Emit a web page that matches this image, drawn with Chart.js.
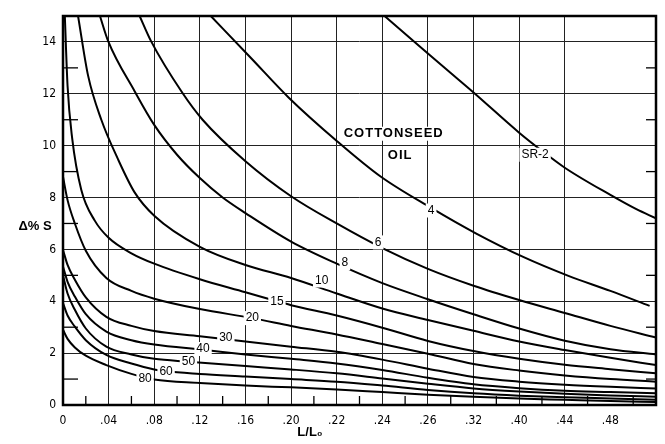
<!DOCTYPE html>
<html><head><meta charset="utf-8">
<script src="https://cdn.jsdelivr.net/npm/chart.js@4.4.1/dist/chart.umd.min.js"></script>
<style>html,body{margin:0;padding:0;background:#fff}#wrap{width:665px;height:444px}</style>
</head><body><div id="wrap"><canvas id="c" width="665" height="444"></canvas></div>
<script>
// x positions are grid-line indexes (the printed L/L0 labels are unevenly spaced)
const xTickLabels = ['0','.04','.08','.12','.16','.20','.22','.24','.26','.32','.40','.44','.48'];
const yTickValues = [0,2,4,6,8,10,12,14];

const curveSR2 = [[7.05,15],[7.6,14.16],[8,13.55],[8.5,12.8],[9,12.05],[10,10.5],[10.5,9.8],[11,9.15],[12,8.1],[12.57,7.55],[13,7.2]];
const curve4  = [[3.24,15],[4.11,13.4],[4.95,11.85],[5.99,10.2],[6.97,8.8],[8.07,7.6],[9.05,6.62],[10.1,5.7],[11.08,4.98],[12,4.4],[12.86,3.82]];
const curve6  = [[1.68,15],[1.93,14.03],[2.62,12.03],[3.06,11.0],[4,9.4],[5,8.05],[6,7.0],[7,6.05],[8,5.25],[9,4.6],[10,4.05],[11,3.55],[12,3.05],[13,2.6]];
const curve8  = [[0.81,15],[0.99,14.03],[1.57,12.1],[2.0,10.8],[2.5,9.65],[3,8.75],[3.5,8.0],[4,7.4],[5,6.3],[6,5.45],[7,4.7],[8,4.08],[9,3.5],[10,2.95],[11,2.48],[12,2.15],[13,1.95]];
const curve10 = [[0.33,15],[0.55,12.7],[0.84,11.0],[1.2,9.5],[1.57,8.2],[2,7.3],[3,6.1],[4,5.4],[5,4.9],[6,4.3],[7,3.72],[8,3.28],[9,2.86],[10,2.45],[11,2.12],[12,1.82],[13,1.54]];
const curve15 = [[0.04,15],[0.1,12.3],[0.2,10.3],[0.4,8.3],[0.7,7.1],[1,6.45],[1.5,5.85],[2,5.45],[3,4.85],[4,4.35],[4.69,4.0],[5,3.85],[6,3.45],[7,2.98],[8,2.47],[9,2.08],[10,1.78],[11,1.55],[12,1.38],[13,1.22]];
const curve20 = [[0,8.8],[0.1,7.9],[0.26,7.0],[0.5,5.95],[0.95,4.9],[1.5,4.4],[2,4.1],[3,3.7],[4.15,3.35],[5,3.05],[6,2.72],[7,2.35],[8,1.98],[9,1.58],[10,1.33],[11,1.14],[12,1.0],[13,0.9]];
const curve30 = [[0,5.98],[0.1,5.4],[0.26,4.83],[0.5,4.15],[0.95,3.4],[1.5,3.05],[2,2.85],[3,2.65],[4,2.45],[5,2.25],[6,2.05],[7,1.75],[8,1.4],[9,1.08],[10,0.9],[11,0.78],[12,0.7],[13,0.64]];
const curve40 = [[0,5.34],[0.1,4.75],[0.26,4.18],[0.5,3.5],[0.95,2.83],[1.5,2.5],[2,2.33],[3.07,2.13],[4,1.95],[5,1.78],[6,1.6],[7,1.35],[8,1.05],[9,0.8],[10,0.65],[11,0.55],[12,0.5],[13,0.45]];
const curve50 = [[0,5.0],[0.1,4.3],[0.26,3.67],[0.5,2.95],[0.95,2.25],[1.5,1.95],[2,1.78],[2.75,1.67],[4,1.5],[5,1.37],[6,1.22],[7,1.02],[8,0.82],[9,0.64],[10,0.52],[11,0.43],[12,0.37],[13,0.32]];
const curve60 = [[0,3.93],[0.1,3.45],[0.26,3.02],[0.5,2.5],[0.95,1.93],[1.5,1.6],[2,1.37],[2.26,1.3],[3,1.2],[4,1.1],[5,1.0],[6,0.9],[7,0.75],[8,0.58],[9,0.45],[10,0.36],[11,0.3],[12,0.25],[13,0.2]];
const curve80 = [[0,2.9],[0.1,2.55],[0.26,2.22],[0.5,1.9],[0.95,1.54],[1.5,1.2],[2,0.98],[3,0.85],[4,0.75],[5,0.68],[6,0.6],[7,0.5],[8,0.4],[9,0.32],[10,0.25],[11,0.2],[12,0.15],[13,0.12]];

const curveNames = ['SR-2','4','6','8','10','15','20','30','40','50','60','80'];
const curveSets = [curveSR2,curve4,curve6,curve8,curve10,curve15,curve20,curve30,curve40,curve50,curve60,curve80];
// inline label anchors [x, y]
const labelPos = [[10.35,9.65],[8.07,7.5],[6.91,6.27],[6.18,5.47],[5.67,4.8],[4.69,3.99],[4.15,3.35],[3.57,2.58],[3.07,2.16],[2.75,1.67],[2.26,1.29],[1.8,1.0]];
const noteLines = [['COTTONSEED',7.25,10.46],['OIL',7.39,9.61]];

const datasets = curveSets.map((pts,i)=>({
  label: curveNames[i],
  data: pts.map(p=>({x:p[0],y:p[1]})),
  borderColor:'#000', borderWidth:2, pointRadius:0, fill:false,
  cubicInterpolationMode:'monotone'
}));

const decor = {
  id:'decor',
  afterDatasetsDraw(chart){
    const {ctx, chartArea:a, scales:{x,y}} = chart;
    ctx.save();
    ctx.strokeStyle='#000'; ctx.lineWidth=1.3;
    for(let i=0;i<13;i++){
      const px=x.getPixelForValue(i+0.5);
      ctx.beginPath(); ctx.moveTo(px,a.bottom); ctx.lineTo(px,a.bottom-9); ctx.stroke();
    }
    for(let v=1; v<15; v+=2){
      const py=y.getPixelForValue(v);
      ctx.beginPath(); ctx.moveTo(a.left,py); ctx.lineTo(a.left+15,py); ctx.stroke();
      ctx.beginPath(); ctx.moveTo(a.right,py); ctx.lineTo(a.right-10,py); ctx.stroke();
    }
    ctx.lineWidth=2.5;
    ctx.strokeRect(a.left,a.top,a.right-a.left,a.bottom-a.top);
    ctx.font='12px "Liberation Sans", Arial, sans-serif';
    ctx.textAlign='center'; ctx.textBaseline='middle';
    labelPos.forEach((p,i)=>{
      const px=x.getPixelForValue(p[0]), py=y.getPixelForValue(p[1]);
      const w=ctx.measureText(curveNames[i]).width+4;
      ctx.fillStyle='#fff'; ctx.fillRect(px-w/2,py-7,w,14);
      ctx.fillStyle='#000'; ctx.fillText(curveNames[i],px,py);
    });
    ctx.font='bold 13px "Liberation Sans", Arial, sans-serif';
    if (ctx.letterSpacing!==undefined) ctx.letterSpacing='1px';
    noteLines.forEach(n=>{
      const px=x.getPixelForValue(n[1]), py=y.getPixelForValue(n[2]);
      const w=ctx.measureText(n[0]).width+4;
      ctx.fillStyle='#fff'; ctx.fillRect(px-w/2,py-7,w,14);
      ctx.fillStyle='#000'; ctx.fillText(n[0],px,py);
    });
    if (ctx.letterSpacing!==undefined) ctx.letterSpacing='0px';
    ctx.font='bold 13px "Liberation Sans", Arial, sans-serif';
    ctx.fillText('Δ% S', 35, 226);
    ctx.fillText('L/L₀', 310, 432);
    ctx.restore();
  }
};

new Chart(document.getElementById('c'), {
  type:'line',
  data:{datasets},
  options:{
    responsive:false, animation:false,
    layout:{padding:{top:16,right:5,left:0,bottom:0}},
    plugins:{legend:{display:false},tooltip:{enabled:false}},
    scales:{
      x:{type:'linear',min:0,max:13,
        afterBuildTicks(s){ s.ticks=[...Array(14).keys()].map(v=>({value:v})); },
        afterFit(s){ s.height=39; },
        grid:{color:c=>c.tick && c.tick.value===12 ? 'rgba(0,0,0,0)' : '#222', lineWidth:1, drawTicks:false},
        border:{display:false},
        ticks:{padding:9,color:'#000',maxRotation:0,autoSkip:false,
          font:{family:'"Liberation Sans Narrow","DejaVu Sans Condensed",sans-serif',size:12},
          callback:(v)=> xTickLabels[v] !== undefined ? xTickLabels[v] : ''}
      },
      y:{type:'linear',min:0,max:15,
        afterBuildTicks(s){ s.ticks=yTickValues.map(v=>({value:v})); },
        afterFit(s){ s.width=63; },
        grid:{color:'#222',lineWidth:1,drawTicks:false},
        border:{display:false},
        ticks:{padding:7,color:'#000',
          font:{family:'"Liberation Sans Narrow","DejaVu Sans Condensed",sans-serif',size:12}}
      }
    }
  },
  plugins:[decor]
});
</script></body></html>
